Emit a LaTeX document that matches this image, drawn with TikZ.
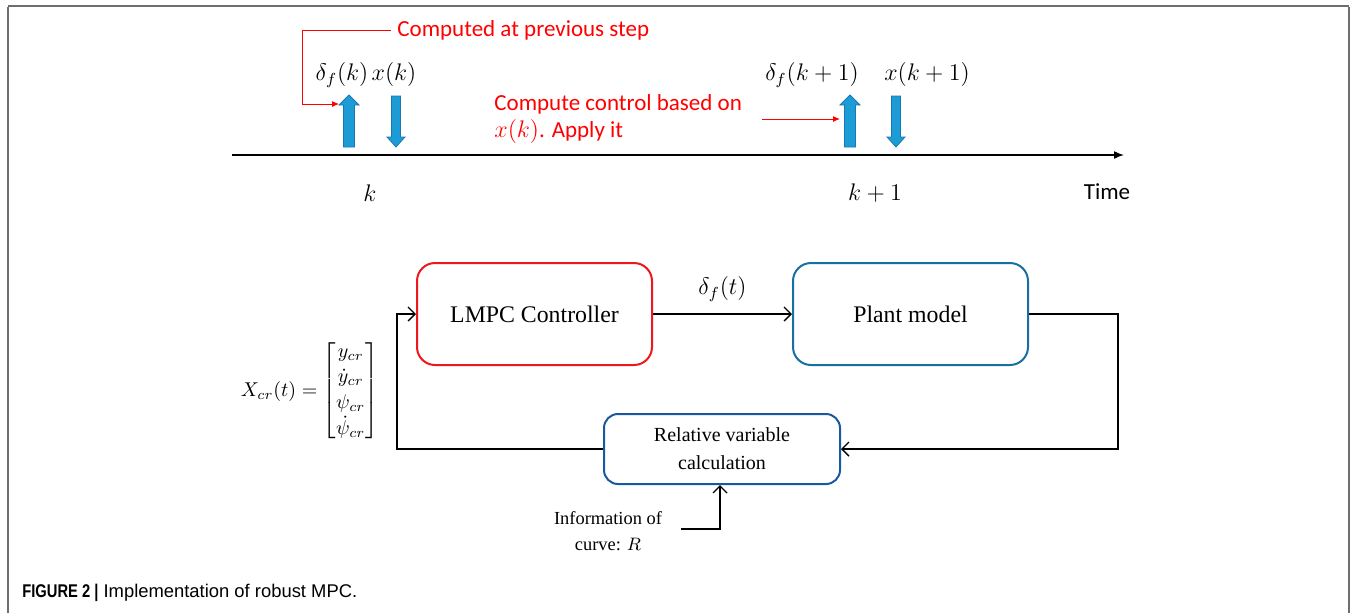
\documentclass[tikz,border=0pt]{standalone}
\usepackage{amsmath}
\usepackage{fontspec}
\setmainfont{Liberation Serif}
\newfontfamily\calibfont{Carlito}
\newfontfamily\capfont{Liberation Sans}
\usetikzlibrary{arrows.meta}

\definecolor{noteRed}{RGB}{255,0,0}
\definecolor{boxRed}{RGB}{238,24,28}
\definecolor{plantBlue}{RGB}{22,112,162}
\definecolor{relBlue}{RGB}{26,88,160}
\definecolor{fatFill}{RGB}{28,156,214}
\definecolor{fatEdge}{RGB}{30,118,176}
\definecolor{frameGray}{RGB}{110,110,110}

\tikzset{
  mathlbl/.style={inner sep=1pt, font=\fontsize{11.5}{13}\selectfont},
  sanslbl/.style={inner sep=1pt, font=\calibfont\fontsize{11.5}{13.5}\selectfont},
  redtxt/.style={sanslbl, text=noteRed},
  redarrow/.style={draw=noteRed, line width=0.5pt, -{Latex[length=3.5pt,width=3pt]}},
  fatarrow/.style={fill=fatFill, draw=fatEdge, line width=0.4pt},
  blockbox/.style={rounded corners=9pt, line width=1pt, minimum width=117.5pt,
    minimum height=51pt, align=center, font=\fontsize{11.9}{14}\selectfont},
  flow/.style={draw=black, line width=0.7pt, -{Straight Barb[length=3.5pt,width=7pt]}},
  serifnote/.style={align=center, inner sep=1pt, font=\fontsize{9.2}{13}\selectfont}
}

\begin{document}
\begin{tikzpicture}[x=0.5pt, y=-0.5pt]
\useasboundingbox (0,0) rectangle (1356,612);

% page frame: heavier top rule, thin sides
\draw[frameGray, line width=0.8pt] (8,613) -- (8,6.5);
\draw[frameGray, line width=0.8pt] (1349,613) -- (1349,6.5);
\draw[frameGray, line width=1.2pt] (7.6,6) -- (1349.4,6);

% ---------------- timeline ----------------
\coordinate (tstart) at (232,155);
\coordinate (tend) at (1124,155);
\draw[line width=0.75pt, -{Latex[length=5pt,width=4pt]}] (tstart) -- (tend);

\node[mathlbl] (klbl) at (370,193) {$k$};
\node[mathlbl] (kplbl) at (875,193) {$k+1$};
\node[sanslbl] (timelbl) at (1107,192) {Time};

% block arrows: control applied (up) and state measured (down)
\foreach \cx/\nm in {349/upA, 850/upB}{
  \begin{scope}[shift={(\cx,0)}]
    \draw[fatarrow] (-5.5,147) -- (-5.5,105) -- (-10,105) -- (0,95)
      -- (10,105) -- (5.5,105) -- (5.5,147) -- cycle;
    \coordinate (\nm) at (-10,104);
  \end{scope}
}
\foreach \cx in {396, 896}{
  \begin{scope}[shift={(\cx,0)}]
    \draw[fatarrow] (-4.5,96) -- (4.5,96) -- (4.5,137) -- (9,137)
      -- (0,147) -- (-9,137) -- (-4.5,137) -- cycle;
  \end{scope}
}

\node[mathlbl] (dfk) at (342,75) {$\delta_f(k)$};
\node[mathlbl] (xk) at (394,74) {$x(k)$};
\node[mathlbl] (dfk1) at (812,75) {$\delta_f(k+1)$};
\node[mathlbl] (xk1) at (927,74) {$x(k+1)$};

% annotations
\node[redtxt, anchor=west, inner xsep=3pt] (prevnote) at (391,30) {Computed at previous step};
\coordinate (prevbend) at (302,30);
\draw[redarrow] (prevnote.west) -- (prevbend) |- (upA);

\node[redtxt, anchor=west, align=left] (ctrlnote) at (492,119)
  {Compute control based on\\$x(k)$. Apply it};
\coordinate (ctrlstart) at (762,119);
\draw[redarrow] (ctrlstart) -- (upB |- ctrlstart);

% ---------------- block diagram ----------------
\node[blockbox, draw=boxRed] (lmpc) at (534.5,314) {LMPC Controller};
\node[blockbox, draw=plantBlue] (plant) at (910.5,314) {Plant model};
\node[blockbox, draw=relBlue, rounded corners=7pt, minimum width=118pt,
  minimum height=35pt, font=\fontsize{10}{14}\selectfont] (rel) at (722,449)
  {Relative variable\\calculation};

\draw[flow] (lmpc) -- node[mathlbl, above=5pt] (dft) {$\delta_f(t)$} (plant);

\coordinate (plantout) at (1118,314);
\draw[flow] (plant.east) -- (plantout) |- (rel.east);

\coordinate (fbcorner) at (397,449);
\draw[flow] (rel.west) -- (fbcorner) |- (lmpc.west);

\node[serifnote] (curveinfo) at (608,531) {Information of\\curve: $R$};
\coordinate (curvestart) at (681,529);
\coordinate (curvebend) at (720,529);
\draw[flow] (curvestart) -- (curvebend) -- (curvebend |- rel.south);

% state vector of the feedback signal
\node[inner sep=0pt, anchor=east, font=\fontsize{10}{12}\selectfont] (xvec) at (379,391)
  {$X_{cr}(t)=\renewcommand{\arraystretch}{1.06}\begin{bmatrix} y_{cr}\\ \dot y_{cr}\\ \psi_{cr}\\ \dot\psi_{cr}\end{bmatrix}$};

% caption
\node[anchor=west, inner sep=0pt, font=\capfont\fontsize{9.2}{11}\selectfont] (caption)
  at (22,593) {\scalebox{0.8}[1]{\textbf{FIGURE 2 |}} Implementation of robust MPC.};
\end{tikzpicture}
\end{document}
